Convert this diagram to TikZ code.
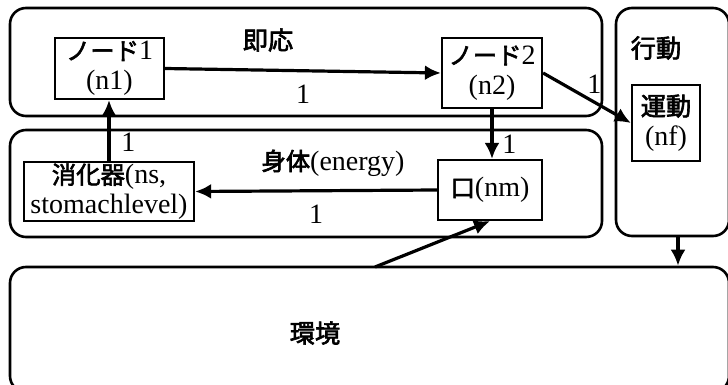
\documentclass[tikz,border=0pt]{standalone}
\usepackage{fontspec}
\setmainfont{Liberation Serif}
\newfontfamily\jp{Noto Sans CJK JP}[FakeBold=2.5, Scale=0.87]
\usetikzlibrary{positioning, arrows.meta}

\begin{document}
\begin{tikzpicture}[x=0.5pt, y=-0.5pt, font=\fontsize{14}{15}\selectfont,
  area/.style={draw, line width=1.3pt, rounded corners=8pt, inner sep=0pt},
  title/.style={font=\fontsize{14.5}{16}\selectfont\jp},
  unit/.style={draw, line width=1.1pt, align=center, inner sep=0pt},
  link/.style={-{Latex[length=8pt, width=7.5pt]}, line width=1.6pt}]
\useasboundingbox (0,0) rectangle (728,385);

% areas
\node[area, minimum width=296pt, minimum height=54pt] (react) at (306,62) {};
\node[area, minimum width=296pt, minimum height=53.5pt] (body) at (306,183.5) {};
\node[area, minimum width=56.5pt, minimum height=114pt] (act) at (672.5,122) {};
\node[area, minimum width=359.5pt, minimum height=62.5pt] (env) at (369.5,329.5) {};

\node[title] at (268,40) {即応};
\node at (333,163) {{\jp 身体}(energy)};
\node[title] at (656,48) {行動};
\node[title] at (315,333) {環境};

% units
\node[unit, minimum width=54.5pt, minimum height=30.5pt] (n1) at (109.5,68.5) {{\jp ノード}1\\(n1)};
\node[unit, minimum width=50pt, minimum height=35pt] (n2) at (492,73) {{\jp ノード}2\\(n2)};
\node[unit, minimum width=85pt, minimum height=29.5pt] (ns) at (109,191.5) {{\jp 消化器}(ns,\\stomachlevel)};
\node[unit, minimum width=52pt, minimum height=30pt] (nm) at (490,190) {{\jp 口}(nm)};
\node[unit, minimum width=34pt, minimum height=38pt] (nf) at (666,123) {{\fontsize{14.5}{16}\selectfont\jp 運動}\\(nf)};

\coordinate (envin) at (375,267);
\coordinate (actout) at (678,236);

% links
\draw[link] (n1.east) -- node[below=3pt] {1} (n2.west);
\draw[link] (n2.east) -- node[above right=-2pt and -4pt, pos=0.5] {1} (nf.west);
\draw[link] (n2.south) -- node[right=1pt, pos=0.7] {1} (n2.south |- nm.north);
\draw[link] (nm.west) -- node[below=3pt] {1} (ns.east);
\draw[link] (ns.north) -- node[right=2pt, pos=0.3] {1} (ns.north |- n1.south);
\draw[link] (envin) -- (nm.south);
\draw[link] (actout) -- (actout |- env.north);
\end{tikzpicture}
\end{document}
